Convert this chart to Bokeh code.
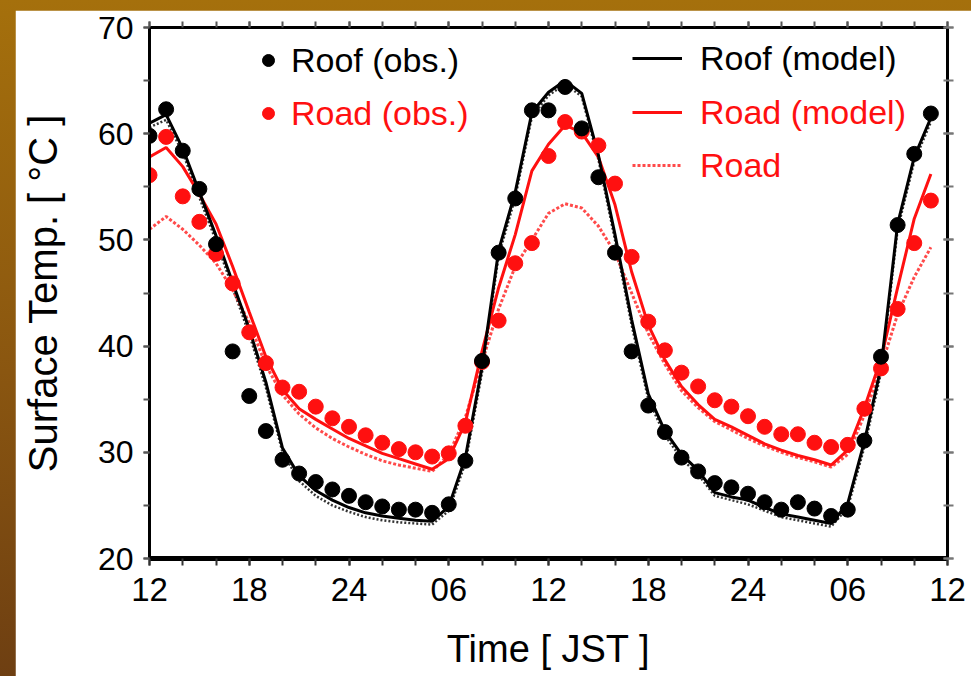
from bokeh.plotting import figure
from bokeh.models import (LinearAxis, FixedTicker, Legend, LegendItem, Range1d)
from bokeh.layouts import column
from bokeh.embed import file_html
from bokeh.resources import INLINE

# ---------------- data ----------------
hours = list(range(48))  # hours since 12 JST of day 1

x_tick_values = [0, 6, 12, 18, 24, 30, 36, 42, 48]
x_tick_labels = ["12", "18", "24", "06", "12", "18", "24", "06", "12"]
x_minor_values = list(range(0, 49, 2))
y_tick_values = [20, 30, 40, 50, 60, 70]
y_minor_values = list(range(20, 71, 5))

roof_obs = [59.8, 62.3, 58.4, 54.8, 49.6, 39.5, 35.3, 32.0, 29.3, 28.0,
            27.2, 26.5, 25.9, 25.3, 24.9, 24.6, 24.6, 24.3, 25.1, 29.2,
            38.6, 48.8, 53.9, 62.2, 62.2, 64.4, 60.5, 55.9, 48.8, 39.5,
            34.4, 31.9, 29.5, 28.2, 27.1, 26.7, 26.1, 25.3, 24.6, 25.3,
            24.7, 24.0, 24.6, 31.1, 39.0, 51.4, 58.1, 61.9]

road_obs = [56.1, 59.7, 54.1, 51.7, 48.7, 45.9, 41.3, 38.4, 36.1, 35.7,
            34.3, 33.2, 32.4, 31.6, 30.9, 30.3, 30.0, 29.6, 29.9, 32.5,
            38.5, 42.4, 47.8, 49.7, 57.9, 61.1, 60.2, 58.9, 55.3, 48.4,
            42.3, 39.6, 37.5, 36.2, 34.9, 34.3, 33.4, 32.4, 31.7, 31.7,
            30.9, 30.5, 30.7, 34.1, 37.9, 43.5, 49.7, 53.7]

roof_model = [61.0, 61.8, 58.6, 54.5, 50.4, 46.0, 41.6, 36.6, 30.4, 27.8,
              26.4, 25.5, 24.8, 24.3, 24.0, 23.8, 23.6, 23.5, 24.9, 29.5,
              38.0, 49.0, 54.5, 62.0, 63.9, 65.0, 63.8, 58.0, 50.5, 42.5,
              35.5, 32.0, 29.8, 28.3, 26.2, 25.8, 25.5, 24.8, 24.2, 23.9,
              23.6, 23.3, 25.2, 31.0, 38.0, 51.5, 57.8, 61.5]

roof_dotted = [60.6, 61.3, 58.2, 54.0, 49.9, 45.5, 41.1, 36.1, 30.0, 27.3,
               25.9, 25.0, 24.4, 23.9, 23.6, 23.4, 23.3, 23.2, 24.5, 29.0,
               37.5, 48.5, 54.0, 61.6, 63.6, 64.7, 63.5, 57.6, 50.0, 42.0,
               35.0, 31.6, 29.4, 27.9, 25.9, 25.5, 25.1, 24.5, 23.9, 23.6,
               23.3, 23.0, 24.8, 30.5, 37.5, 51.0, 57.4, 61.1]

road_model = [57.8, 58.7, 56.9, 54.3, 51.5, 47.5, 43.2, 39.0, 35.9, 34.1,
              33.1, 32.2, 31.3, 30.6, 29.9, 29.4, 28.9, 28.4, 29.4, 32.8,
              39.5, 45.5, 50.5, 56.5, 59.0, 60.8, 60.1, 57.8, 53.3, 47.0,
              42.0, 38.7, 36.2, 34.5, 33.1, 32.4, 31.6, 30.8, 30.2, 29.7,
              29.3, 28.8, 30.2, 34.2, 38.8, 45.5, 52.0, 56.2]

road_dotted = [51.0, 52.2, 51.0, 49.5, 47.8, 45.3, 42.2, 38.2, 35.4, 33.6,
               32.3, 31.3, 30.5, 29.8, 29.2, 28.8, 28.5, 28.2, 29.8, 33.3,
               38.5, 43.5, 47.5, 50.0, 52.5, 53.4, 53.0, 51.3, 48.8, 45.0,
               41.2, 38.3, 35.8, 34.2, 32.9, 32.1, 31.3, 30.6, 30.0, 29.5,
               29.1, 28.6, 29.8, 33.5, 38.0, 43.0, 46.5, 49.3]

# ---------------- styling ----------------
FONT = "Liberation Sans"
RED = "#ff1010"

p = figure(width=956, height=666,
           x_range=Range1d(0, 48), y_range=Range1d(20, 70),
           output_backend="svg", toolbar_location=None,
           min_border_left=134, min_border_right=24,
           min_border_top=17, min_border_bottom=118)
p.margin = (10, 0, 0, 15)
p.background_fill_color = "white"
p.border_fill_color = "white"
p.grid.visible = False
p.outline_line_color = "black"
p.outline_line_width = 3

# bottom axis
xa = p.xaxis[0]
xa.ticker = FixedTicker(ticks=x_tick_values, minor_ticks=x_minor_values)
xa.major_label_overrides = dict(zip(x_tick_values, x_tick_labels))
xa.axis_line_width = 5
xa.major_tick_line_width = 2
xa.minor_tick_line_width = 2
xa.major_tick_in = 0
xa.major_tick_out = 7
xa.minor_tick_in = 0
xa.minor_tick_out = 7
xa.major_tick_line_color = "#333333"
xa.minor_tick_line_color = "#333333"
xa.major_label_text_font = FONT
xa.major_label_text_font_size = "33px"
xa.major_label_text_color = "black"
xa.major_label_standoff = 12
xa.axis_label = "Time [ JST ]"
xa.axis_label_text_font = FONT
xa.axis_label_text_font_size = "38px"
xa.axis_label_text_font_style = "normal"
xa.axis_label_text_color = "black"
xa.axis_label_standoff = 24

# left axis
ya = p.yaxis[0]
ya.ticker = FixedTicker(ticks=y_tick_values, minor_ticks=y_minor_values)
ya.axis_line_width = 3
ya.major_tick_line_width = 2
ya.minor_tick_line_width = 2
ya.major_tick_in = 0
ya.major_tick_out = 6
ya.minor_tick_in = 0
ya.minor_tick_out = 6
ya.major_tick_line_color = "#555555"
ya.minor_tick_line_color = "#555555"
ya.major_label_text_font = FONT
ya.major_label_text_font_size = "32px"
ya.major_label_text_color = "black"
ya.major_label_standoff = 10
ya.axis_label = "Surface Temp. [ °C ]"
ya.axis_label_text_font = FONT
ya.axis_label_text_font_size = "40px"
ya.axis_label_text_font_style = "normal"
ya.axis_label_text_color = "black"
ya.axis_label_standoff = 30

# top and right axes (ticks only, labels hidden)
top = LinearAxis(ticker=FixedTicker(ticks=x_tick_values, minor_ticks=x_minor_values),
                 axis_line_width=3, major_tick_in=0, major_tick_out=6,
                 minor_tick_in=0, minor_tick_out=6,
                 major_tick_line_width=2, minor_tick_line_width=2,
                 major_tick_line_color="#555555", minor_tick_line_color="#555555",
                 major_label_text_color=None, major_label_standoff=0)
p.add_layout(top, "above")
right = LinearAxis(ticker=FixedTicker(ticks=y_tick_values, minor_ticks=y_minor_values),
                   axis_line_width=3, major_tick_in=4, major_tick_out=6,
                   minor_tick_in=4, minor_tick_out=6,
                   major_tick_line_width=2, minor_tick_line_width=2,
                   major_tick_line_color="#777777", minor_tick_line_color="#777777",
                   major_label_text_color=None, major_label_standoff=0)
p.add_layout(right, "right")

# ---------------- glyphs ----------------
r_roof_dot = p.line(hours, roof_dotted, line_color="black", line_width=2.5,
                    line_dash="2 2", line_alpha=0.8)
r_road_dot = p.line(hours, road_dotted, line_color="#ff2a2a", line_width=3,
                    line_dash="3 2", line_alpha=0.85)
r_road_model = p.line(hours, road_model, line_color=RED, line_width=3)
r_roof_model = p.line(hours, roof_model, line_color="black", line_width=3)

r_road_obs = p.scatter(hours, road_obs, size=15, marker="circle",
                       fill_color=RED, line_color=RED)
r_roof_obs = p.scatter(hours, roof_obs, size=15, marker="circle",
                       fill_color="black", line_color="black")

# ---------------- legends ----------------
def make_legend(items, loc, color, glyph_w):
    lg = Legend(items=items, location=loc,
                label_text_font=FONT, label_text_font_size="34px",
                label_text_color=color,
                glyph_width=glyph_w, glyph_height=40, label_height=40,
                spacing=13, padding=0, margin=0,
                label_standoff=8 if glyph_w == 30 else 18,
                border_line_color=None, background_fill_alpha=0)
    p.add_layout(lg)
    return lg

make_legend([LegendItem(label="Roof (obs.)", renderers=[r_roof_obs])],
            (104, 478), "black", 30)
make_legend([LegendItem(label="Road (obs.)", renderers=[r_road_obs])],
            (104, 425), RED, 30)
make_legend([LegendItem(label="Roof (model)", renderers=[r_roof_model])],
            (483, 480), "black", 50)
make_legend([LegendItem(label="Road (model)", renderers=[r_road_model]),
             LegendItem(label="Road", renderers=[r_road_dot])],
            (483, 373), RED, 50)

page = column(p, styles={"background": "linear-gradient(180deg, #a5700c 0%, #8a5610 55%, #6e3f12 100%)"})

open("out.html", "w").write(file_html(page, INLINE))
